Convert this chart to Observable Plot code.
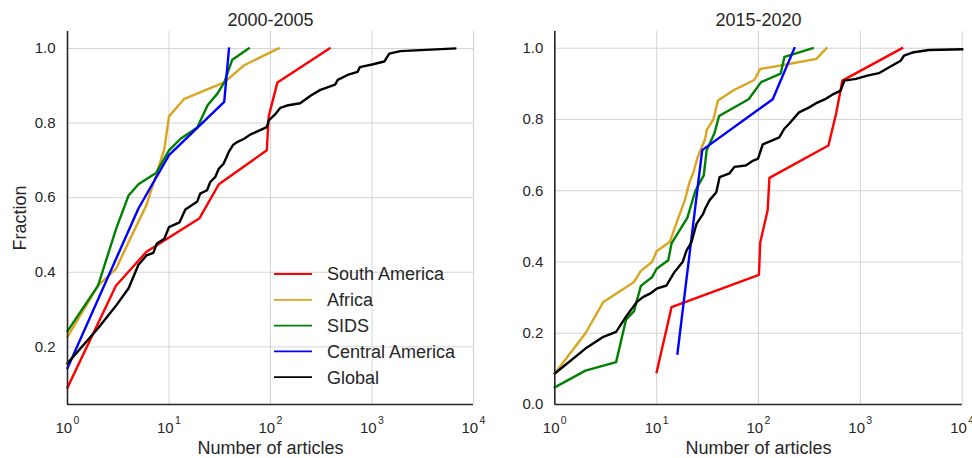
<!DOCTYPE html>
<html>
<head>
<meta charset="utf-8">
<script src="https://cdn.jsdelivr.net/npm/d3@7"></script>
<script src="https://cdn.jsdelivr.net/npm/@observablehq/plot@0.6"></script>
<style>
  html, body { margin: 0; padding: 0; background: #fff; }
  #wrap { position: relative; width: 972px; height: 458px; overflow: hidden;
          font-family: "Liberation Sans", Arial, sans-serif; color: #262626; }
  .panel { position: absolute; top: 0; }
  #legend { position: absolute; left: 270px; top: 258px; }
</style>
</head>
<body>
<div id="wrap">
  <div id="p1" class="panel" style="left:0px"></div>
  <div id="p2" class="panel" style="left:490px"></div>
  <div id="legend"></div>
</div>
<script>
// ---------- data ----------
const seriesNames = ["South America", "Africa", "SIDS", "Central America", "Global"];
const seriesColors = ["#ff0000", "#daa520", "#008000", "#0000ff", "#000000"];
const titles = ["2000-2005", "2015-2020"];
const xTicks = [1, 10, 100, 1000, 10000];
const yTicksLeft = [0.2, 0.4, 0.6, 0.8, 1.0];
const yTicksRight = [0.0, 0.2, 0.4, 0.6, 0.8, 1.0];

// 2000-2005
const sa0_x = [1, 3, 6, 20, 31, 92, 96, 117, 382];
const sa0_y = [0.091, 0.364, 0.455, 0.545, 0.636, 0.727, 0.818, 0.909, 1.0];
const af0_x = [1, 2, 3, 4.5, 6, 7.6, 9, 10, 14, 35, 55, 120];
const af0_y = [0.227, 0.364, 0.409, 0.51, 0.58, 0.668, 0.73, 0.818, 0.864, 0.909, 0.955, 1.0];
const sids0_x = [1, 2, 3, 4, 5, 7.5, 10, 13, 19, 24, 30, 35, 42, 61];
const sids0_y = [0.242, 0.364, 0.515, 0.606, 0.636, 0.667, 0.727, 0.758, 0.788, 0.848, 0.879, 0.909, 0.970, 1.0];
const ca0_x = [1, 5, 10, 35, 39];
const ca0_y = [0.143, 0.571, 0.714, 0.857, 1.0];
const gl0_x = [1, 2, 3, 4, 5, 6, 7, 7.6, 9, 10, 12.7, 14.5, 19, 20.3, 23.7, 25.5, 28.5, 31, 34.5, 38.7, 43, 47, 55, 63, 92, 96, 111, 125, 145, 196, 250, 310, 433, 460, 575, 720, 760, 1000, 1320, 1480, 1900, 6600];
const gl0_y = [0.156, 0.25, 0.31, 0.357, 0.42, 0.445, 0.452, 0.477, 0.49, 0.521, 0.534, 0.568, 0.59, 0.611, 0.62, 0.642, 0.655, 0.678, 0.691, 0.722, 0.742, 0.749, 0.758, 0.769, 0.789, 0.807, 0.823, 0.841, 0.847, 0.853, 0.874, 0.889, 0.903, 0.916, 0.929, 0.937, 0.95, 0.957, 0.965, 0.986, 0.993, 1.0];

// 2015-2020
const sa1_x = [10, 14, 101, 104, 123, 128, 486, 580, 665, 2570];
const sa1_y = [0.091, 0.273, 0.364, 0.455, 0.545, 0.636, 0.727, 0.818, 0.909, 1.0];
const af1_x = [1, 2, 3, 6, 7, 9, 10, 13.5, 16, 19, 20, 21, 23, 25, 27.5, 30, 31, 36, 40, 56, 91, 104, 160, 370, 465];
const af1_y = [0.087, 0.2, 0.288, 0.344, 0.375, 0.4, 0.43, 0.457, 0.517, 0.575, 0.6, 0.624, 0.652, 0.69, 0.72, 0.746, 0.77, 0.80, 0.853, 0.881, 0.911, 0.942, 0.951, 0.970, 1.0];
const sids1_x = [1, 2, 4, 5, 6, 7, 9, 10, 13, 14, 20, 24, 29, 31, 37, 41, 80, 106, 165, 180, 340];
const sids1_y = [0.048, 0.095, 0.119, 0.238, 0.262, 0.333, 0.357, 0.381, 0.405, 0.452, 0.524, 0.6, 0.643, 0.714, 0.762, 0.81, 0.857, 0.905, 0.929, 0.976, 1.0];
const ca1_x = [16, 28, 138, 225];
const ca1_y = [0.143, 0.714, 0.857, 1.0];
const gl1_x = [1, 2, 3, 4, 5.1, 6.4, 7.4, 8.6, 10, 12.5, 14, 15, 18, 19.7, 22, 24.6, 28.6, 30, 33, 38.5, 41.5, 52, 58, 75, 88, 99, 110, 128, 160, 179, 200, 250, 315, 364, 458, 550, 640, 696, 906, 1170, 1520, 1900, 2490, 2680, 3240, 4700, 10000];
const gl1_y = [0.087, 0.157, 0.19, 0.204, 0.25, 0.288, 0.302, 0.311, 0.325, 0.334, 0.358, 0.372, 0.4, 0.433, 0.456, 0.507, 0.535, 0.55, 0.573, 0.596, 0.638, 0.649, 0.667, 0.671, 0.684, 0.69, 0.73, 0.738, 0.75, 0.774, 0.788, 0.82, 0.834, 0.845, 0.858, 0.872, 0.881, 0.909, 0.914, 0.923, 0.930, 0.946, 0.965, 0.979, 0.988, 0.995, 0.997];

// ---------- build ----------
const panel0 = [[sa0_x, sa0_y], [af0_x, af0_y], [sids0_x, sids0_y], [ca0_x, ca0_y], [gl0_x, gl0_y]];
const panel1 = [[sa1_x, sa1_y], [af1_x, af1_y], [sids1_x, sids1_y], [ca1_x, ca1_y], [gl1_x, gl1_y]];

const textColor = "#262626";
const gridColor = "#d4d4d4";

function makePanel({series, title, yDomain, yTicks, width, marginLeft, marginRight, tickPadding, yLabel}) {
  const lineMarks = series.map(([xs, ys], i) =>
    Plot.line(xs.map((x, j) => ({x, y: ys[j]})), {
      x: "x", y: "y", stroke: seriesColors[i], strokeWidth: 2.4,
      strokeLinejoin: "round", strokeLinecap: "square"
    })
  );
  const marks = [
    Plot.ruleX(xTicks, {stroke: gridColor, strokeWidth: 1}),
    Plot.ruleY(yTicks, {stroke: gridColor, strokeWidth: 1}),
    ...lineMarks,
    Plot.ruleX([xTicks[0]], {stroke: textColor, strokeWidth: 1.6}),
    Plot.ruleY([yDomain[0]], {stroke: textColor, strokeWidth: 1.6}),
    Plot.text(xTicks, {x: d => d, text: () => "10", frameAnchor: "bottom", textAnchor: "end",
      lineAnchor: "bottom", dx: 4.7, dy: 28.3, fontSize: 15, fill: textColor}),
    Plot.text(xTicks, {x: d => d, text: d => String(Math.round(Math.log10(d))), frameAnchor: "bottom",
      textAnchor: "start", lineAnchor: "bottom", dx: 6, dy: 19.5, fontSize: 10.5, fill: textColor}),
    Plot.text(["Number of articles"], {frameAnchor: "bottom", textAnchor: "middle", lineAnchor: "bottom",
      dy: 49.3, fontSize: 18, fill: textColor}),
    Plot.text([title], {frameAnchor: "top", textAnchor: "middle", lineAnchor: "bottom",
      dy: -6, fontSize: 18, fill: textColor})
  ];
  if (yLabel) {
    marks.push(Plot.text([yLabel], {frameAnchor: "left", textAnchor: "middle", rotate: -90,
      dx: -47.5, fontSize: 18, fill: textColor}));
  }
  return Plot.plot({
    width, height: 458,
    marginTop: 31, marginBottom: 54, marginLeft, marginRight,
    style: {background: "transparent", fontFamily: '"Liberation Sans", Arial, sans-serif',
            fontSize: "15px", color: textColor, overflow: "visible"},
    x: {type: "log", domain: [1, 10000], axis: null},
    y: {domain: yDomain, ticks: yTicks, tickFormat: d3.format(".1f"), tickSize: 0,
        tickPadding, label: null},
    marks
  });
}

document.getElementById("p1").appendChild(makePanel({
  series: panel0, title: titles[0], yDomain: [0.0455, 1.0455], yTicks: yTicksLeft,
  width: 490, marginLeft: 67, marginRight: 17, tickPadding: 12, yLabel: "Fraction"
}));
document.getElementById("p2").appendChild(makePanel({
  series: panel1, title: titles[1], yDomain: [0, 1.047], yTicks: yTicksRight,
  width: 482, marginLeft: 64.3, marginRight: 10.3, tickPadding: 11.5, yLabel: null
}));

// legend (SVG, no frame)
const legSvg = d3.select("#legend").append("svg")
  .attr("width", 200).attr("height", 130)
  .style("display", "block")
  .attr("font-family", '"Liberation Sans", Arial, sans-serif')
  .attr("font-size", 18);
seriesNames.forEach((name, i) => {
  const cy = 16 + i * 25.8;
  legSvg.append("line")
    .attr("x1", 4).attr("x2", 42).attr("y1", cy).attr("y2", cy)
    .attr("stroke", seriesColors[i]).attr("stroke-width", 1.8);
  legSvg.append("text")
    .attr("x", 57).attr("y", cy).attr("dy", "0.36em")
    .attr("fill", textColor).text(name);
});
</script>
</body>
</html>
